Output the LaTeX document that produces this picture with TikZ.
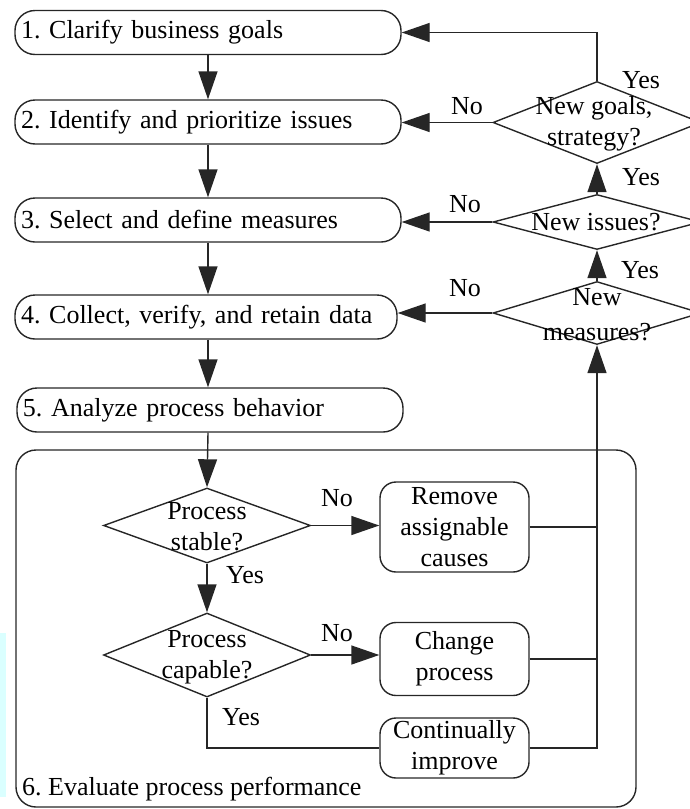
\documentclass[tikz,border=0pt]{standalone}
\usepackage{fontspec}
\setmainfont{Liberation Serif}
\usetikzlibrary{shapes.geometric,arrows.meta}
\definecolor{stripcol}{RGB}{218,255,255}
\frenchspacing
\begin{document}
\begin{tikzpicture}[x=1pt,y=-1pt,
  every node/.style={font=\fontsize{26}{31}\selectfont, inner sep=0pt},
  ln/.style={line width=1.4pt, draw=black!85},
  arr/.style={ln, -{Triangle[length=28pt,width=19pt]}},
  stepbox/.style={ln, draw, rounded corners=20pt, minimum height=44pt, inner xsep=6pt, align=left},
  smallbox/.style={ln, draw, rounded corners=16pt, minimum width=149pt, align=center},
  ddia/.style={ln, draw, diamond, inner sep=0pt},
  dtext/.style={align=center},
  lbl/.style={}
]
\useasboundingbox (0,0) rectangle (690,809);
\fill[stripcol] (0,633) rectangle (6,797);

% main steps
\node[stepbox, minimum width=386pt, text width=374pt] (b1) at (208,32.5) {1. Clarify business goals};
\node[stepbox, minimum width=386pt, text width=374pt] (b2) at (208,122) {2. Identify and prioritize issues};
\node[stepbox, minimum width=386pt, text width=374pt] (b3) at (208,220) {3. Select and define measures};
\node[stepbox, minimum width=382pt, text width=370pt] (b4) at (206,317) {4. Collect, verify, and retain data};
\node[stepbox, minimum width=386pt, text width=374pt] (b5) at (210,410) {5. Analyze process behavior};

% container
\draw[ln, rounded corners=20pt] (16,450) rectangle (636,807);
\node[anchor=west] (b6) at (22,789) {6. Evaluate process performance};

% right decisions
\node[ddia, minimum width=208pt, minimum height=82pt] (d1) at (597,122.5) {};
\node[dtext] (t1) at (594,124) {New goals,\\strategy?};
\node[ddia, minimum width=208pt, minimum height=55pt] (d2) at (597,222) {};
\node[dtext] (t2) at (596,222) {New issues?};
\node[ddia, minimum width=208pt, minimum height=63pt] (d3) at (597,313) {};
\node[dtext] (t3) at (597,314.5) {New\\[4pt]measures?};

% inner decisions
\node[ddia, minimum width=207pt, minimum height=75pt] (ps) at (207,525.5) {};
\node[dtext] (tps) at (207,527) {Process\\stable?};
\node[ddia, minimum width=207pt, minimum height=84pt] (pc) at (207,655) {};
\node[dtext] (tpc) at (207,657) {Process\\capable?};

% action boxes
\node[smallbox, minimum height=90pt] (rm) at (454.5,527) {Remove\\assignable\\causes};
\node[smallbox, minimum height=73pt] (ch) at (454.5,659) {Change\\process};
\node[smallbox, minimum height=60pt] (ci) at (454.5,748) {Continually\\improve};

% labels
\node[lbl] (y1) at (641,80) {Yes};
\node[lbl] (n1) at (467,106) {No};
\node[lbl] (y2) at (641,177) {Yes};
\node[lbl] (n2) at (465,204) {No};
\node[lbl] (y3) at (640,270) {Yes};
\node[lbl] (n3) at (465,288) {No};
\node[lbl] (n4) at (337,498) {No};
\node[lbl] (y4) at (245,575) {Yes};
\node[lbl] (n5) at (337,633) {No};
\node[lbl] (y5) at (241,717) {Yes};

% main flow
\draw[arr] (b1.south) -- (b1.south |- b2.north);
\draw[arr] (b2.south) -- (b2.south |- b3.north);
\draw[arr] (b3.south) -- (b3.south |- b4.north);
\draw[arr] (b3.south |- b4.south) -- (b3.south |- b5.north);
\draw[arr] (b3.south |- b5.south) -- (ps.north);

% inner flow
\draw[arr] (ps.east) -- (ps.east -| rm.west);
\draw[arr] (ps.south) -- (pc.north);
\draw[arr] (pc.east) -- (pc.east -| ch.west);
\draw[ln] (pc.south) |- (ci.west);
\draw[ln] (rm.east) -- (rm.east -| d3.south);
\draw[ln] (ch.east) -- (ch.east -| d3.south);
\draw[arr] (ci.east) -| (d3.south);

% feedback
\draw[arr] (d3.north) -- (d2.south);
\draw[arr] (d2.north) -- (d1.south);
\draw[arr] (d1.north) |- (b1.east);
\draw[arr] (d1.west) -- (d1.west -| b2.east);
\draw[arr] (d2.west) -- (d2.west -| b3.east);
\draw[arr] (d3.west) -- (d3.west -| b4.east);
\end{tikzpicture}
\end{document}
